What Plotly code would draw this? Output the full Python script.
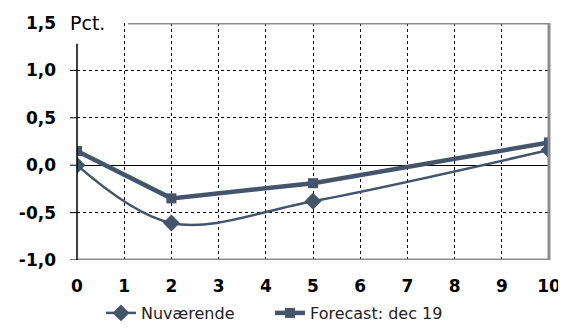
import plotly.graph_objects as go

x_vals = [0, 2, 5, 10]
nuvaerende = [0.0, -0.61, -0.38, 0.16]
forecast = [0.15, -0.35, -0.19, 0.24]
x_ticks = list(range(0, 11))
y_ticks = [-1.0, -0.5, 0.0, 0.5, 1.0, 1.5]
y_labels = ["-1,0", "-0,5", "0,0", "0,5", "1,0", "1,5"]

color = "#44546A"
border = "#8C8C8C"

# page has an 8px body margin, so the plot area is offset to compensate
W, H = 566, 329
L, T, PW, PH = 69, 15, 472, 237

fig = go.Figure()
fig.add_trace(go.Scatter(
    x=x_vals, y=nuvaerende, name="Nuværende", mode="lines+markers",
    line=dict(color=color, width=2.5, shape="spline", smoothing=1.0),
    marker=dict(symbol="diamond", size=13, color=color),
    legend="legend",
))
fig.add_trace(go.Scatter(
    x=x_vals, y=forecast, name="Forecast: dec 19", mode="lines+markers",
    line=dict(color=color, width=4.5),
    marker=dict(symbol="square", size=10, color=color),
    legend="legend2",
))

shapes = []
shapes.append(dict(type="line", xref="paper", yref="y", x0=51/PW, x1=1, y0=1.5, y1=1.5,
                   line=dict(color=border, width=3)))
shapes.append(dict(type="line", xref="paper", yref="y", x0=1, x1=1, y0=-1.0, y1=1.5,
                   line=dict(color=border, width=3)))
shapes.append(dict(type="line", xref="paper", yref="y", x0=0, x1=1, y0=-1.0, y1=-1.0,
                   line=dict(color=border, width=3)))
shapes.append(dict(type="line", xref="paper", yref="y", x0=0, x1=0, y0=-1.0, y1=1.28,
                   line=dict(color="black", width=1.5)))
for v in y_ticks[:-1]:
    shapes.append(dict(type="line", xref="paper", yref="y", x0=-7/PW, x1=0, y0=v, y1=v,
                       line=dict(color="black", width=1)))

legend_font = dict(size=16, family="DejaVu Sans", color="#222222")
leg_y = (H - (313 - 8)) / H
fig.update_layout(
    width=W, height=H,
    margin=dict(l=L, r=W - L - PW, t=T, b=H - T - PH, autoexpand=False),
    paper_bgcolor="white", plot_bgcolor="white",
    font=dict(family="DejaVu Sans", color="black"),
    shapes=shapes,
    showlegend=True,
    legend=dict(orientation="h", x=(101 - 8 - L) / PW, xanchor="left",
                yref="container", y=leg_y, yanchor="middle", font=legend_font,
                bgcolor="rgba(0,0,0,0)"),
    legend2=dict(orientation="h", x=(270 - 8 - L) / PW, xanchor="left",
                 yref="container", y=leg_y, yanchor="middle", font=legend_font,
                 bgcolor="rgba(0,0,0,0)"),
    annotations=[dict(text="Pct.", xref="paper", yref="y", x=-9/PW, y=1.5,
                      xanchor="left", yanchor="middle", showarrow=False,
                      font=dict(size=19, family="DejaVu Sans", color="black"))],
)
fig.update_xaxes(
    range=[0, 10], tickvals=x_ticks, ticktext=[str(v) for v in x_ticks],
    showgrid=True, gridcolor="black", griddash="dot", gridwidth=1,
    zeroline=False, showline=False, ticks="", ticklabelstandoff=14,
    automargin=False,
    tickfont=dict(size=17, family="DejaVu Sans", weight="bold", color="black"),
)
fig.update_yaxes(
    range=[-1.0, 1.5], tickvals=y_ticks, ticktext=y_labels,
    showgrid=True, gridcolor="black", griddash="dot", gridwidth=1,
    zeroline=True, zerolinecolor="black", zerolinewidth=1,
    showline=False, ticks="", ticklabelstandoff=20,
    automargin=False,
    tickfont=dict(size=17, family="DejaVu Sans", weight="bold", color="black"),
)

fig.write_html("out.html")
